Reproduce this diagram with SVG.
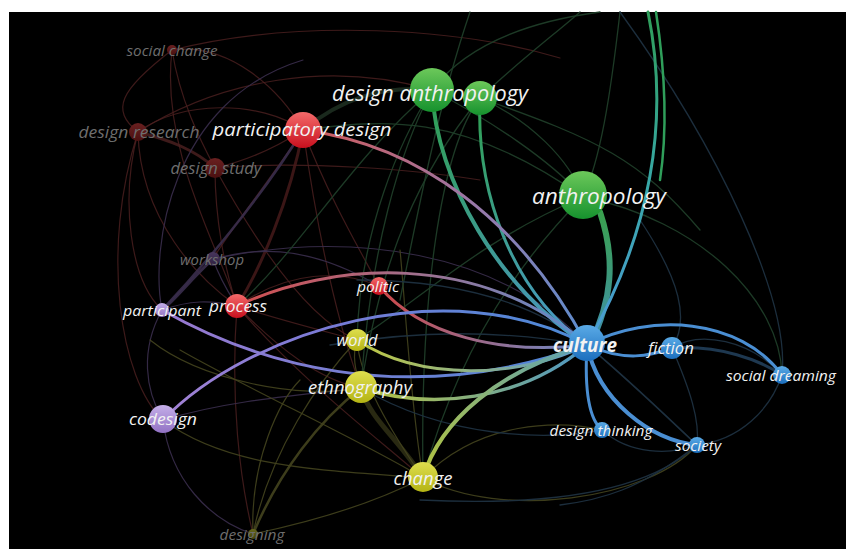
<svg xmlns="http://www.w3.org/2000/svg" width="846" height="549" viewBox="0 0 846 549">
<defs>
<linearGradient id="nRed" x1="0" y1="0" x2="0" y2="1"><stop offset="0" stop-color="#f46a6a"/><stop offset="1" stop-color="#c8101e"/></linearGradient>
<linearGradient id="nGreen" x1="0" y1="0" x2="0" y2="1"><stop offset="0" stop-color="#6cc85a"/><stop offset="1" stop-color="#16922e"/></linearGradient>
<linearGradient id="nBlue" x1="0" y1="0" x2="0" y2="1"><stop offset="0" stop-color="#5aaae6"/><stop offset="1" stop-color="#1c6fbe"/></linearGradient>
<linearGradient id="nYellow" x1="0" y1="0" x2="0" y2="1"><stop offset="0" stop-color="#dede4e"/><stop offset="1" stop-color="#b4b414"/></linearGradient>
<linearGradient id="nPurple" x1="0" y1="0" x2="0" y2="1"><stop offset="0" stop-color="#c4aee8"/><stop offset="1" stop-color="#9272c4"/></linearGradient>
<linearGradient id="nDRed" x1="0" y1="0" x2="0" y2="1"><stop offset="0" stop-color="#6a2020"/><stop offset="1" stop-color="#4a1010"/></linearGradient>
<linearGradient id="nDPurple" x1="0" y1="0" x2="0" y2="1"><stop offset="0" stop-color="#48365c"/><stop offset="1" stop-color="#2e2040"/></linearGradient>
<linearGradient id="nDYellow" x1="0" y1="0" x2="0" y2="1"><stop offset="0" stop-color="#66661c"/><stop offset="1" stop-color="#44440c"/></linearGradient>
<linearGradient id="gDA" gradientUnits="userSpaceOnUse" x1="432" y1="90" x2="587" y2="345"><stop offset="0" stop-color="#2fa050"/><stop offset="1" stop-color="#4a96c8"/></linearGradient>
<linearGradient id="gDA2" gradientUnits="userSpaceOnUse" x1="480" y1="98" x2="587" y2="345"><stop offset="0" stop-color="#2fa050"/><stop offset="1" stop-color="#4a9ad0"/></linearGradient>
<linearGradient id="gAN" gradientUnits="userSpaceOnUse" x1="600" y1="215" x2="590" y2="345"><stop offset="0" stop-color="#3aa050"/><stop offset="1" stop-color="#3f8fae"/></linearGradient>
<linearGradient id="gTop" gradientUnits="userSpaceOnUse" x1="650" y1="12" x2="587" y2="345"><stop offset="0" stop-color="#2f9e5a"/><stop offset="0.5" stop-color="#38a8a8"/><stop offset="1" stop-color="#4c9ad8"/></linearGradient>
<linearGradient id="gPD" gradientUnits="userSpaceOnUse" x1="303" y1="130" x2="587" y2="345"><stop offset="0" stop-color="#d05a5a"/><stop offset="0.5" stop-color="#9a78a8"/><stop offset="1" stop-color="#5a8ed0"/></linearGradient>
<linearGradient id="gPR" gradientUnits="userSpaceOnUse" x1="237" y1="306" x2="587" y2="345"><stop offset="0" stop-color="#d24e4e"/><stop offset="0.5" stop-color="#a0708e"/><stop offset="1" stop-color="#5a8ed0"/></linearGradient>
<linearGradient id="gPO" gradientUnits="userSpaceOnUse" x1="379" y1="286" x2="587" y2="345"><stop offset="0" stop-color="#d04848"/><stop offset="1" stop-color="#6a8ac8"/></linearGradient>
<linearGradient id="gPA" gradientUnits="userSpaceOnUse" x1="162" y1="310" x2="587" y2="345"><stop offset="0" stop-color="#9a78d0"/><stop offset="1" stop-color="#4a86d6"/></linearGradient>
<linearGradient id="gCO" gradientUnits="userSpaceOnUse" x1="163" y1="420" x2="587" y2="345"><stop offset="0" stop-color="#a482d4"/><stop offset="0.4" stop-color="#7a7ad6"/><stop offset="1" stop-color="#4a8ad6"/></linearGradient>
<linearGradient id="gWO" gradientUnits="userSpaceOnUse" x1="357" y1="340" x2="587" y2="345"><stop offset="0" stop-color="#c0c840"/><stop offset="1" stop-color="#5a9ad0"/></linearGradient>
<linearGradient id="gET" gradientUnits="userSpaceOnUse" x1="361" y1="388" x2="587" y2="345"><stop offset="0" stop-color="#b8c440"/><stop offset="1" stop-color="#4a96c8"/></linearGradient>
<linearGradient id="gCH" gradientUnits="userSpaceOnUse" x1="423" y1="478" x2="587" y2="345"><stop offset="0" stop-color="#b4c43e"/><stop offset="1" stop-color="#5aa0b8"/></linearGradient>
<style>
.e{fill:none;stroke-linecap:round}
.fr{stroke:#4e2020;stroke-width:1.2;opacity:.8}
.fp{stroke:#3a2e4c;stroke-width:1.2;opacity:.9}
.fy{stroke:#44441e;stroke-width:1.2;opacity:.9}
.fg{stroke:#1f3d28;stroke-width:1.3;opacity:.95}
.fb{stroke:#1e3040;stroke-width:1.3;opacity:.95}
.fg2{stroke:#253a2a;stroke-width:4;opacity:.7}
text{font-family:"Open Sans","Liberation Sans",sans-serif;font-style:italic;text-anchor:middle;fill:#f2f2f2}
.dim{fill:#6e6e6e}
</style>
</defs>
<rect x="0" y="0" width="846" height="549" fill="#ffffff"/>
<rect x="9" y="12" width="837" height="537" fill="#000000"/>
<g id="connectors">
<path class="e fr" d="M172,50 C230,42 280,90 303,130"/>
<path class="e fr" d="M172,50 C180,100 200,140 215,168"/>
<path class="e fr" d="M172,50 C160,150 220,250 237,306"/>
<path class="e fr" d="M172,50 C300,18 460,28 560,58"/>
<path class="e fr" d="M172,50 C120,90 110,110 138,132"/>
<path class="e fr" d="M138,132 C180,100 260,100 303,130"/>
<path class="e fr" style="stroke-width:3" d="M138,132 C170,140 195,150 215,168"/>
<path class="e fr" d="M138,132 C140,220 200,280 237,306"/>
<path class="e fr" d="M138,132 C120,200 130,280 162,310"/>
<path class="e fr" d="M138,132 C100,250 120,380 163,420"/>
<path class="e fr" d="M138,132 C220,80 330,60 432,90"/>
<path class="e fr" d="M215,168 C215,220 225,270 237,306"/>
<path class="e fr" d="M215,168 C250,160 280,145 303,130"/>
<path class="e fr" d="M215,168 C300,160 420,170 480,180"/>
<path class="e fr" style="stroke-width:3;stroke:#4a1c1c" d="M303,130 C290,200 260,270 237,306"/>
<path class="e fr" d="M303,130 C270,180 230,230 213,259"/>
<path class="e fr" d="M303,130 C320,250 340,330 361,388"/>
<path class="e fr" d="M303,130 C330,200 360,250 379,286"/>
<path class="e fr" d="M237,306 C300,380 380,440 423,478"/>
<path class="e fr" d="M237,306 C280,350 320,380 361,388"/>
<path class="e fr" d="M237,306 C280,320 320,330 357,340"/>
<path class="e fr" d="M237,306 C230,400 240,480 253,534"/>
<path class="e fr" d="M237,306 C290,270 340,270 379,286"/>
<path class="e fr" d="M215,168 C260,250 310,320 357,340"/>
<path class="e fp" style="stroke-width:3" d="M213,259 C190,280 175,300 162,310"/>
<path class="e fp" style="stroke-width:2.5" d="M303,130 C260,200 200,270 162,310"/>
<path class="e fp" d="M213,259 C220,280 230,295 237,306"/>
<path class="e fp" d="M213,259 C350,230 500,250 587,345"/>
<path class="e fp" d="M213,259 C250,250 300,240 379,286"/>
<path class="e fp" d="M162,310 C140,350 145,390 163,420"/>
<path class="e fp" d="M162,310 C190,300 210,300 237,306"/>
<path class="e fp" d="M163,420 C230,400 300,395 361,388"/>
<path class="e fp" d="M163,420 C170,480 210,520 253,534"/>
<path class="e fp" d="M162,310 C150,250 170,100 303,60"/>
<path class="e fy" d="M253,534 C320,520 380,500 423,478"/>
<path class="e fy" style="stroke-width:2.5" d="M253,534 C280,470 320,420 361,388"/>
<path class="e fy" d="M253,534 C270,450 320,380 357,340"/>
<path class="e fy" d="M253,534 C250,460 280,400 300,380"/>
<path class="e fy" style="stroke-width:5;opacity:.6" d="M423,478 C400,440 370,420 361,388"/>
<path class="e fy" d="M423,478 C390,430 360,380 357,340"/>
<path class="e fy" d="M423,478 C410,400 405,300 400,250"/>
<path class="e fy" d="M423,478 C500,520 650,500 697,445"/>
<path class="e fy" d="M423,478 C480,420 560,420 602,430"/>
<path class="e fy" d="M163,420 C230,470 330,470 423,478"/>
<path class="e fy" d="M361,388 C355,370 352,355 357,340"/>
<path class="e fy" d="M361,388 C300,400 200,380 150,340"/>
<path class="e fy" d="M423,478 C360,440 250,390 180,350"/>
<path class="e fg" d="M361,388 C370,250 400,150 432,90"/>
<path class="e fg" d="M357,340 C360,230 400,140 432,90"/>
<path class="e fg" d="M423,478 C420,300 440,150 480,98"/>
<path class="e fg" d="M432,90 C470,40 540,20 600,12"/>
<path class="e fg" d="M480,98 C520,60 560,30 580,12"/>
<path class="e fg" d="M480,98 C530,120 570,160 583,197"/>
<path class="e fg" d="M432,90 C490,120 550,160 583,197"/>
<path class="e fg" d="M432,90 C350,160 300,250 237,306"/>
<path class="e fg" d="M480,98 C420,170 380,260 361,388"/>
<path class="e fg" d="M583,197 C700,220 780,300 782,375"/>
<path class="e fg" d="M583,197 C480,240 420,300 357,340"/>
<path class="e fg" d="M583,197 C500,280 450,380 423,478"/>
<path class="e fg" d="M480,98 C600,140 640,160 700,230"/>
<path class="e fg" d="M470,12 C440,100 420,200 400,300"/>
<path class="e fg" d="M620,12 C610,100 600,160 583,197"/>
<path class="e fg2" d="M303,130 C340,100 380,85 432,90"/>
<path class="e fg" d="M303,130 C380,120 460,110 583,197"/>
<path class="e fb" d="M672,348 C690,390 700,420 697,445"/>
<path class="e fb" d="M782,375 C770,410 740,440 697,445"/>
<path class="e fb" d="M602,430 C630,455 670,455 697,445"/>
<path class="e fb" d="M587,345 C630,380 670,420 697,445"/>
<path class="e fb" d="M587,345 C640,390 680,430 697,445"/>
<path class="e fb" d="M620,12 C720,150 790,300 782,375"/>
<path class="e fb" d="M640,220 C680,280 690,320 672,348"/>
<path class="e fb" d="M697,445 C640,500 520,505 420,500"/>
<path class="e fb" d="M697,445 C640,490 600,500 560,505"/>
<path class="e fb" d="M672,348 C700,330 750,340 782,375"/>
<path class="e fb" d="M361,388 C450,440 550,440 602,430"/>
<path class="e fb" d="M587,345 C530,300 450,280 357,280"/>
<path class="e fb" d="M587,345 C500,330 420,330 330,345"/>
<path class="e" stroke="url(#gDA)" stroke-width="4" d="M432,90 C436,180 500,290 587,345"/>
<path class="e" stroke="url(#gDA2)" stroke-width="3" d="M480,98 C476,190 510,290 587,345"/>
<path class="e" stroke="url(#gAN)" stroke-width="6" d="M600,212 C616,260 612,300 590,345"/>
<path class="e" stroke="url(#gTop)" stroke-width="3" d="M648,12 C670,120 652,230 587,345"/>
<path class="e" stroke="#2f9e5a" stroke-width="2.5" d="M656,12 C668,90 666,140 660,180"/>
<path class="e" stroke="url(#gPD)" stroke-width="3" d="M303,130 C420,145 520,220 587,345"/>
<path class="e" stroke="url(#gPR)" stroke-width="3" d="M237,306 C330,262 480,250 587,345"/>
<path class="e" stroke="url(#gPO)" stroke-width="3" d="M379,286 C420,335 500,355 587,345"/>
<path class="e" stroke="url(#gPA)" stroke-width="3" d="M162,310 C250,360 400,412 587,345"/>
<path class="e" stroke="url(#gCO)" stroke-width="3" d="M163,420 C250,330 450,270 587,345"/>
<path class="e" stroke="url(#gWO)" stroke-width="3" d="M357,340 C420,382 520,378 587,345"/>
<path class="e" stroke="url(#gET)" stroke-width="3.5" d="M361,388 C430,410 520,402 587,345"/>
<path class="e" stroke="url(#gCH)" stroke-width="4" d="M423,478 C440,420 500,370 587,345"/>
<path class="e" stroke="#4a8ed2" stroke-width="3" d="M587,345 C650,312 740,318 782,375"/>
<path class="e" stroke="#4a8ed2" stroke-width="3" d="M587,345 C625,362 650,356 672,348"/>
<path class="e" stroke="#4a8ed2" stroke-width="3" d="M587,345 C584,395 590,420 602,430"/>
<path class="e" stroke="#4a8ed2" stroke-width="4" d="M587,345 C598,400 650,440 697,445"/>
<path class="e" stroke="#1e3850" stroke-width="3" d="M672,348 C720,345 760,360 782,375"/>
</g>
<g id="node-social-change"><circle cx="172" cy="50" r="5" fill="url(#nDRed)"/><text class="dim" x="172" y="56" font-size="14" textLength="91" lengthAdjust="spacingAndGlyphs">social change</text></g>
<g id="node-design-research"><circle cx="138" cy="132" r="9" fill="url(#nDRed)"/><text class="dim" x="139" y="138" font-size="16.5" textLength="121" lengthAdjust="spacingAndGlyphs">design research</text></g>
<g id="node-design-study"><circle cx="215" cy="168" r="10" fill="url(#nDRed)"/><text class="dim" x="216" y="174" font-size="15.5" textLength="91" lengthAdjust="spacingAndGlyphs">design study</text></g>
<g id="node-workshop"><circle cx="213" cy="259" r="7" fill="url(#nDPurple)"/><text class="dim" x="212" y="265" font-size="14.5" textLength="64" lengthAdjust="spacingAndGlyphs">workshop</text></g>
<g id="node-designing"><circle cx="253" cy="534" r="5" fill="url(#nDYellow)"/><text class="dim" x="252" y="540" font-size="14.5" textLength="65" lengthAdjust="spacingAndGlyphs">designing</text></g>
<g id="node-participatory-design"><circle cx="303" cy="130" r="18" fill="url(#nRed)"/><text x="302" y="136" font-size="18.5" textLength="179" lengthAdjust="spacingAndGlyphs">participatory design</text></g>
<g id="node-design-anthropology"><circle cx="432" cy="90" r="22" fill="url(#nGreen)"/><circle cx="480" cy="98" r="17" fill="url(#nGreen)"/><text x="430" y="101" font-size="21" textLength="196" lengthAdjust="spacingAndGlyphs">design anthropology</text></g>
<g id="node-anthropology"><circle cx="583" cy="195" r="24" fill="url(#nGreen)"/><text x="599" y="204" font-size="22" textLength="134" lengthAdjust="spacingAndGlyphs">anthropology</text></g>
<g id="node-participant"><circle cx="162" cy="310" r="7" fill="url(#nPurple)"/><text x="162" y="316" font-size="14.5" textLength="78" lengthAdjust="spacingAndGlyphs">participant</text></g>
<g id="node-process"><circle cx="237" cy="306" r="12" fill="url(#nRed)"/><text x="238" y="312" font-size="17" textLength="58" lengthAdjust="spacingAndGlyphs">process</text></g>
<g id="node-politic"><circle cx="379" cy="286" r="9" fill="url(#nRed)"/><text x="378" y="292" font-size="15" textLength="42" lengthAdjust="spacingAndGlyphs">politic</text></g>
<g id="node-world"><circle cx="357" cy="340" r="11" fill="url(#nYellow)"/><text x="357" y="346" font-size="16" textLength="41" lengthAdjust="spacingAndGlyphs">world</text></g>
<g id="node-ethnography"><circle cx="361" cy="387" r="16" fill="url(#nYellow)"/><text x="360" y="394" font-size="18" textLength="104" lengthAdjust="spacingAndGlyphs">ethnography</text></g>
<g id="node-codesign"><circle cx="163" cy="419" r="14" fill="url(#nPurple)"/><text x="163" y="425" font-size="17" textLength="68" lengthAdjust="spacingAndGlyphs">codesign</text></g>
<g id="node-change"><circle cx="423" cy="477" r="15" fill="url(#nYellow)"/><text x="423" y="485" font-size="18" textLength="59" lengthAdjust="spacingAndGlyphs">change</text></g>
<g id="node-culture"><circle cx="587" cy="343" r="18" fill="url(#nBlue)"/><text x="585" y="352" font-size="19" font-weight="bold" textLength="64" lengthAdjust="spacingAndGlyphs">culture</text></g>
<g id="node-fiction"><circle cx="672" cy="348" r="11" fill="url(#nBlue)"/><text x="671" y="354" font-size="16.5" textLength="46" lengthAdjust="spacingAndGlyphs">fiction</text></g>
<g id="node-social-dreaming"><circle cx="782" cy="375" r="9" fill="url(#nBlue)"/><text x="781" y="381" font-size="15" textLength="110" lengthAdjust="spacingAndGlyphs">social dreaming</text></g>
<g id="node-design-thinking"><circle cx="602" cy="430" r="8" fill="url(#nBlue)"/><text x="601" y="436" font-size="14.5" textLength="103" lengthAdjust="spacingAndGlyphs">design thinking</text></g>
<g id="node-society"><circle cx="697" cy="445" r="8" fill="url(#nBlue)"/><text x="698" y="451" font-size="14.5" textLength="46" lengthAdjust="spacingAndGlyphs">society</text></g>
</svg>
